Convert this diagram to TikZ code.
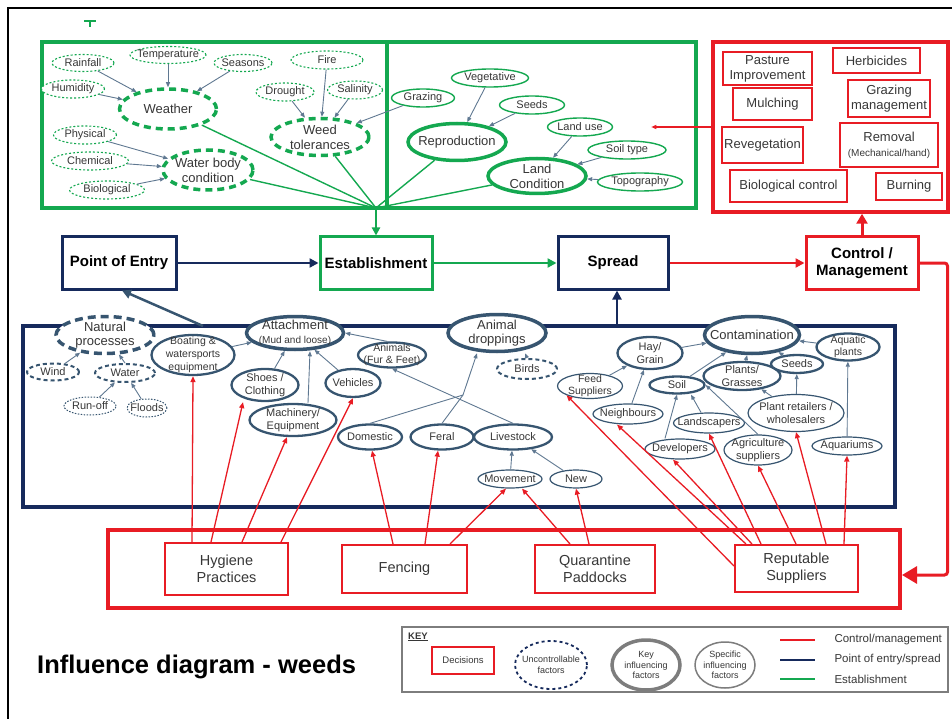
\documentclass[tikz,border=0pt]{standalone}
\usepackage{fontspec}
\setmainfont{Liberation Sans}
\usetikzlibrary{shapes.geometric,arrows.meta,calc}
\definecolor{grn}{RGB}{20,168,80}
\definecolor{nav}{RGB}{22,42,92}
\definecolor{rd}{RGB}{232,28,36}
\definecolor{ngray}{RGB}{55,85,112}
\definecolor{agray}{RGB}{95,120,145}
\definecolor{txt}{RGB}{55,55,55}
\definecolor{kgray}{RGB}{125,125,125}
\newcommand{\fsz}[2]{\fontsize{#1}{#2}\selectfont}
\tikzset{
 lbl/.style={inner xsep=-25pt, inner ysep=-8pt, align=center, text=txt, fill=white, font=\fsz{11}{12.5}},
 gunc/.style={lbl, ellipse, draw=grn, line width=1.1pt, dash pattern=on 2pt off 2pt},
 gukey/.style={lbl, ellipse, draw=grn, line width=3.5pt, dash pattern=on 7pt off 5pt, font=\fsz{13}{15}},
 gkey/.style={lbl, ellipse, draw=grn, line width=3.5pt, font=\fsz{13}{15}},
 gspec/.style={lbl, ellipse, draw=grn, line width=1.4pt},
 nkey/.style={lbl, ellipse, draw=ngray, line width=3.5pt, font=\fsz{13}{14.5}},
 nkeyd/.style={nkey, dash pattern=on 8pt off 5pt},
 nmed/.style={lbl, ellipse, draw=ngray, line width=2.3pt},
 nspec/.style={lbl, ellipse, draw=ngray, line width=1.2pt},
 ndash/.style={lbl, ellipse, draw=ngray, line width=2pt, dash pattern=on 4pt off 3pt},
 ndot/.style={lbl, ellipse, draw=ngray, line width=1pt, dash pattern=on 1.5pt off 1.5pt},
 boxframe/.style={rectangle, inner sep=0pt},
 dec/.style={boxframe, draw=rd, line width=2pt, align=center, text=txt, font=\fsz{13}{15}},
 bdec/.style={boxframe, draw=rd, line width=2pt, align=center, text=txt, font=\fsz{14.5}{17}},
 mainbox/.style={boxframe, line width=3pt, align=center, font=\bfseries\fsz{15}{17}},
 garr/.style={draw=agray, line width=0.9pt, -{Triangle[length=5pt,width=4pt]}},
 rarr/.style={draw=rd, line width=1.3pt, -{Triangle[length=6pt,width=5pt]}},
 gline/.style={draw=grn, line width=1.4pt},
 legtxt/.style={anchor=west, font=\fsz{11.5}{13}, text=txt},
}
\begin{document}
\begin{tikzpicture}[x=1pt,y=-1pt]
\useasboundingbox (0,0) rectangle (952,719);
\draw[line width=2pt] (8,719) -- (8,8) -- (952,8);
\draw[grn, line width=2pt] (84,21) -- (96,21) (90,21) -- (90,27);

% ---------- frames
\node[boxframe, draw=grn, line width=3.5pt, minimum width=345, minimum height=166] (gbox1) at (214.5,125) {};
\node[boxframe, draw=grn, line width=3.5pt, minimum width=309, minimum height=166] (gbox2) at (541.5,125) {};
\node[boxframe, draw=rd, line width=3.5pt, minimum width=235, minimum height=170] (ctlbox) at (830.5,127) {};
\node[boxframe, draw=nav, line width=4pt, minimum width=872, minimum height=181] (navblk) at (459,416.5) {};
\node[boxframe, draw=rd, line width=4pt, minimum width=792, minimum height=78] (botframe) at (504,569) {};
\node[boxframe, draw=kgray, line width=1.2pt, minimum width=546, minimum height=65] (keybox) at (675,659.5) {};

% ---------- establishment factors (left)
\node[gunc, minimum width=62, minimum height=17] (rain) at (83,63) {Rainfall};
\node[gunc, minimum width=76, minimum height=17] (temp) at (168,55) {Temperature};
\node[gunc, minimum width=58, minimum height=17] (seas) at (243,63) {Seasons};
\node[gunc, minimum width=63, minimum height=18] (humid) at (73,89) {Humidity};
\node[gukey, minimum width=97, minimum height=40] (weather) at (168,109) {Weather};
\node[gunc, minimum width=72, minimum height=18] (fire) at (327,60) {Fire};
\node[gunc, minimum width=58, minimum height=18] (drought) at (285,92) {Drought};
\node[gunc, minimum width=55, minimum height=18] (salin) at (355,90) {Salinity};
\node[gukey, minimum width=98, minimum height=37] (weed) at (320,137) {Weed\\tolerances};
\node[gunc, minimum width=63, minimum height=18] (phys) at (85,135) {Physical};
\node[gunc, minimum width=77, minimum height=18] (chem) at (90,161) {Chemical};
\node[gunc, minimum width=75, minimum height=18] (bio) at (107,190) {Biological};
\node[gukey, minimum width=90, minimum height=40] (water) at (208,170) {Water body\\condition};

% ---------- establishment factors (right)
\node[gspec, minimum width=63, minimum height=18] (graz) at (423,98) {Grazing};
\node[gspec, minimum width=77, minimum height=18] (veg) at (490,78) {Vegetative};
\node[gspec, minimum width=65, minimum height=18] (seedsa) at (532,105) {Seeds};
\node[gkey, minimum width=98, minimum height=37] (repro) at (457,142) {Reproduction};
\node[gspec, minimum width=65, minimum height=18] (landuse) at (580,127) {Land use};
\node[gspec, minimum width=78, minimum height=18] (soiltype) at (627,150) {Soil type};
\node[gspec, minimum width=85, minimum height=18] (topo) at (640,182) {Topography};
\node[gkey, minimum width=98, minimum height=35] (landc) at (537,176) {Land\\Condition};

% ---------- control options
\node[dec, minimum width=89, minimum height=33] (pasture) at (767.5,68.5) {Pasture\\Improvement};
\node[dec, minimum width=87, minimum height=25] (herb) at (876.5,60.5) {Herbicides};
\node[dec, minimum width=79, minimum height=32] (mulch) at (772.5,104) {Mulching};
\node[dec, minimum width=82, minimum height=37] (grazm) at (889,98.5) {Grazing\\management};
\node[dec, minimum width=81, minimum height=36] (reveg) at (762.5,145) {Revegetation};
\node[dec, minimum width=98, minimum height=44] (removal) at (889,145) {Removal\\{\fsz{10}{12}(Mechanical/hand)}};
\node[dec, minimum width=117, minimum height=32] (biocon) at (788.5,186) {Biological control};
\node[dec, minimum width=66, minimum height=27] (burn) at (909,186.5) {Burning};

% ---------- main chain
\node[mainbox, draw=nav, minimum width=114, minimum height=52] (poe) at (119,263) {Point of Entry};
\node[mainbox, draw=grn, minimum width=112, minimum height=52] (estab) at (376,263) {Establishment};
\node[mainbox, draw=nav, minimum width=110, minimum height=52] (spread) at (613,263) {Spread};
\node[mainbox, draw=rd, minimum width=112, minimum height=52] (ctrl) at (862,263) {Control /\\Management};

% ---------- lower block
\node[nkeyd, minimum width=98, minimum height=37] (natp) at (105,335) {Natural\\processes};
\node[ndash, minimum width=52, minimum height=17] (wind) at (53,372) {Wind};
\node[ndash, minimum width=60, minimum height=18] (waterl) at (125,373) {Water};
\node[ndot, minimum width=52, minimum height=18] (runoff) at (90,406) {Run-off};
\node[ndot, minimum width=40, minimum height=18] (floods) at (147,408) {Floods};
\node[nmed, minimum width=83, minimum height=40, font=\fsz{10.5}{13}] (boat) at (193,355) {Boating \&\\watersports\\equipment};
\node[nkey, minimum width=97, minimum height=33] (attach) at (295,333) {Attachment\\{\fsz{10}{11}(Mud and loose)}};
\node[nmed, minimum width=68, minimum height=25, font=\fsz{10.5}{12}] (animals) at (392,355) {Animals\\(Fur \& Feet)};
\node[nmed, minimum width=67, minimum height=32] (shoes) at (265,385) {Shoes /\\Clothing};
\node[nmed, minimum width=55, minimum height=28] (vehic) at (353,383) {Vehicles};
\node[nmed, minimum width=87, minimum height=32] (mach) at (293,420) {Machinery/\\Equipment};
\node[nmed, minimum width=64, minimum height=25] (domes) at (370,437) {Domestic};
\node[nmed, minimum width=63, minimum height=25] (feral) at (442,437) {Feral};
\node[nmed, minimum width=78, minimum height=25] (lives) at (513,437) {Livestock};
\node[nkey, minimum width=98, minimum height=37] (droppings) at (497,333) {Animal\\droppings};
\node[ndash, minimum width=60, minimum height=20] (birds) at (527,369) {Birds};
\node[nspec, minimum width=64, minimum height=18] (move) at (510,479) {Movement};
\node[nspec, minimum width=52, minimum height=18] (new) at (576,479) {New};
\node[nspec, minimum width=65, minimum height=25, font=\fsz{10.5}{12}] (feed) at (590,386) {Feed\\Suppliers};
\node[nmed, minimum width=65, minimum height=32] (hay) at (650,353) {Hay/\\Grain};
\node[nkey, minimum width=95, minimum height=37] (contam) at (752,335) {Contamination};
\node[nmed, minimum width=63, minimum height=27, font=\fsz{10.5}{12}] (aquap) at (848,347) {Aquatic\\plants};
\node[nmed, minimum width=55, minimum height=17] (soil) at (677,385) {Soil};
\node[nmed, minimum width=77, minimum height=28] (plants) at (742,376) {Plants/\\Grasses};
\node[nmed, minimum width=52, minimum height=18] (seedsb) at (797,364) {Seeds};
\node[nspec, minimum width=70, minimum height=20] (neigh) at (628,414) {Neighbours};
\node[nspec, minimum width=71, minimum height=20] (landsc) at (709,423) {Landscapers};
\node[nspec, minimum width=96, minimum height=37] (plantr) at (796,413) {Plant retailers /\\wholesalers};
\node[nspec, minimum width=70, minimum height=20] (devel) at (680,449) {Developers};
\node[nspec, minimum width=68, minimum height=30] (agri) at (758,450) {Agriculture\\suppliers};
\node[nspec, minimum width=70, minimum height=18] (aquar) at (847,446) {Aquariums};

% ---------- decisions
\node[bdec, minimum width=123, minimum height=52] (hyg) at (226.5,569) {Hygiene\\Practices};
\node[bdec, minimum width=125, minimum height=48] (fen) at (404.5,569) {Fencing};
\node[bdec, minimum width=120, minimum height=48] (quar) at (595,569) {Quarantine\\Paddocks};
\node[bdec, minimum width=123, minimum height=47] (rep) at (796.5,568.5) {Reputable\\Suppliers};

% ---------- connectors: top
\draw[garr] (rain) -- (weather);
\draw[garr] (temp) -- (weather);
\draw[garr] (seas) -- (weather);
\draw[garr] (humid) -- (weather);
\draw[garr] (drought) -- (weed);
\draw[garr] (fire) -- (weed);
\draw[garr] (salin) -- (weed);
\draw[garr] (graz) -- (weed);
\draw[garr] (phys) -- (water);
\draw[garr] (chem) -- (water);
\draw[garr] (bio) -- (water);
\draw[garr] (veg) -- (repro);
\draw[garr] (seedsa) -- (repro);
\draw[garr] (landuse) -- (landc);
\draw[garr] (soiltype) -- (landc);
\draw[garr] (topo) -- (landc);
\coordinate (conv) at (376,208);
\draw[gline] (weather) -- (conv);
\draw[gline] (water) -- (conv);
\draw[gline] (weed) -- (conv);
\draw[gline] (repro) -- (conv);
\draw[gline] (landc) -- (conv);
\draw[grn, line width=2.5pt, -{Triangle[length=8pt,width=8pt]}] (conv) -- (estab.north);
\draw[rd, line width=1.2pt, -{Triangle[length=5pt,width=4pt]}] (ctlbox.west) -- ++(-60,0);

% ---------- connectors: main chain
\draw[nav, line width=2.5pt, -{Triangle[length=9pt,width=9pt]}] (poe) -- (estab);
\draw[grn, line width=2.5pt, -{Triangle[length=9pt,width=9pt]}] (estab) -- (spread);
\draw[rd, line width=2.5pt, -{Triangle[length=9pt,width=9pt]}] (spread) -- (ctrl);
\draw[rd, line width=3pt, -{Triangle[length=10pt,width=11pt]}] (ctrl.north) -- (ctrl.north |- ctlbox.south);
\draw[rd, line width=3pt, rounded corners=3pt, -{Triangle[length=15pt,width=17pt]}] (ctrl.east) -- ++(28,0) |- ([yshift=-6pt]botframe.east);
\coordinate (pe1) at (203,326);
\draw[ngray, line width=2.5pt, -{Triangle[length=9pt,width=9pt]}] (pe1) -- ([xshift=3pt]poe.south);
\coordinate (spb) at (617,326);
\draw[nav, line width=2pt, -{Triangle[length=9pt,width=9pt]}] (spb) -- (spb |- spread.south);

% ---------- connectors: lower block
\draw[garr] (wind) -- (natp);
\draw[garr] (waterl.north) -- (natp);
\draw[garr] (runoff) -- (waterl);
\draw[garr] (floods) -- (waterl);
\draw[garr] (boat) -- (attach);
\draw[garr] (shoes) -- (attach);
\draw[garr] ([xshift=15pt]mach.north) -- ([xshift=15pt]attach.south);
\draw[garr] (vehic) -- (attach);
\draw[garr] ([xshift=-5pt]animals.north) -- (attach.east);
\draw[garr] (lives.north) -- (animals.south);
\coordinate (jn) at (463,395);
\draw[agray, line width=0.9pt] (domes.north) -- (jn);
\draw[agray, line width=0.9pt] (feral.north) -- (jn);
\draw[garr] (jn) -- ([xshift=-20pt]droppings.south);
\draw[garr] (birds.north) -- ([xshift=-2pt]birds.north |- droppings.south);
\draw[garr] (move) -- (lives);
\draw[garr] (new) -- (lives);
\draw[garr] (feed) -- (hay);
\draw[garr] (neigh) -- (hay);
\draw[garr] (hay) -- (contam);
\draw[garr] (soil) -- (contam);
\draw[garr] (plants) -- (contam);
\draw[garr] (seedsb) -- (contam);
\draw[garr] (aquap) -- (contam);
\draw[garr] (aquar) -- (aquap);
\draw[garr] ([xshift=-15pt]devel.north) -- (soil.south);
\draw[garr] ([xshift=-8pt]landsc.north) -- ([xshift=14pt]soil.south);
\draw[garr] (agri.north) -- (soil.east);
\draw[garr] (plantr) -- (plants);
\draw[garr] (plantr) -- (seedsb);

% ---------- red decision arrows
\draw[rarr] ([xshift=28pt]hyg.north west) -- (boat.south);
\draw[rarr] ([xshift=47pt]hyg.north west) -- ([xshift=-22pt]shoes.south);
\draw[rarr] ([xshift=78pt]hyg.north west) -- ([xshift=-6pt]mach.south);
\draw[rarr] ([xshift=117pt]hyg.north west) -- (vehic.south);
\draw[rarr] ([xshift=52pt]fen.north west) -- ([xshift=2pt]domes.south);
\draw[rarr] ([xshift=84pt]fen.north west) -- ([xshift=-4pt]feral.south);
\draw[rarr] ([xshift=109pt]fen.north west) -- ([xshift=-4pt]move.south);
\draw[rarr] ([xshift=36pt]quar.north west) -- ([xshift=12pt]move.south);
\draw[rarr] ([xshift=55pt]quar.north west) -- (new.south);
\draw[rarr] ([yshift=-22pt]rep.north west) -- (feed.south west);
\draw[rarr] ([xshift=12pt]rep.north west) -- ([xshift=-11pt]neigh.south);
\draw[rarr] ([xshift=18pt]rep.north west) -- ([xshift=-7pt]devel.south);
\draw[rarr] ([xshift=27pt]rep.north west) -- (landsc.south);
\draw[rarr] ([xshift=62pt]rep.north west) -- (agri.south);
\draw[rarr] ([xshift=92pt]rep.north west) -- (plantr.south);
\draw[rarr] ([xshift=110pt]rep.north west) -- (aquar.south);

% ---------- key
\node[font=\bfseries\fsz{9.5}{10}, text=txt, inner sep=0pt] (keyt) at (418,637) {\underline{KEY}};
\node[dec, minimum width=62, minimum height=27, font=\fsz{9.5}{10}] (kdec) at (463,660.5) {Decisions};
\node[lbl, ellipse, draw=nav, line width=1.8pt, dash pattern=on 3pt off 3pt, minimum width=72, minimum height=48, font=\fsz{9}{10.5}] (kunc) at (551,665) {Uncontrollable\\factors};
\node[lbl, ellipse, draw=kgray, line width=3.5pt, minimum width=68, minimum height=50, font=\fsz{9}{10.5}] (kkey) at (646,665) {Key\\influencing\\factors};
\node[lbl, ellipse, draw=kgray, line width=1.5pt, minimum width=60, minimum height=46, font=\fsz{9}{10.5}] (kspec) at (725,665) {Specific\\influencing\\factors};
\node[legtxt] (lt1) at (831,640) {Control/management};
\node[legtxt] (lt2) at (831,660) {Point of entry/spread};
\node[legtxt] (lt3) at (831,679) {Establishment};
\draw[rd, line width=2.5pt] ([xshift=-51pt]lt1.west) -- ([xshift=-16pt]lt1.west);
\draw[nav, line width=2.5pt] ([xshift=-51pt]lt2.west) -- ([xshift=-16pt]lt2.west);
\draw[grn, line width=2.5pt] ([xshift=-51pt]lt3.west) -- ([xshift=-16pt]lt3.west);

% ---------- title
\node[anchor=west, font=\bfseries\fsz{25.5}{29}, inner sep=0pt] (title) at (37,667) {Influence diagram - weeds};
\end{tikzpicture}
\end{document}
